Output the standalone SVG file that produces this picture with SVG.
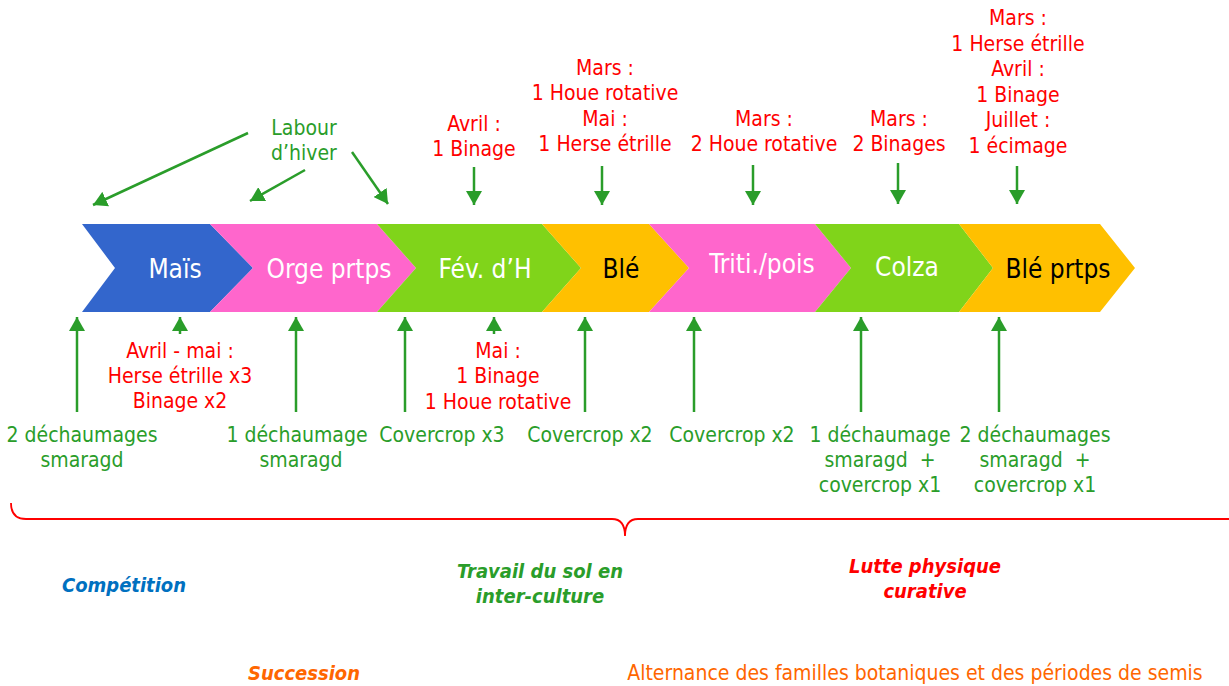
<svg xmlns="http://www.w3.org/2000/svg" width="1229" height="686" viewBox="0 0 1229 686">
<defs>
<style>
text{font-family:"DejaVu Sans Condensed","DejaVu Sans",sans-serif;font-size:21px;text-anchor:middle}
.lbl{font-size:26px;fill:#fff}
.blk{fill:#000}
.red{fill:#FF0000}
.grn{fill:#2A9D2A}
.bi{font-weight:bold;font-style:italic;font-size:20px}
.arr{stroke:#2A9D2A;stroke-width:2.5;fill:none;marker-end:url(#ah)}
</style>
<marker id="ah" viewBox="0 0 14 16" refX="14" refY="8" markerWidth="14" markerHeight="16" markerUnits="userSpaceOnUse" orient="auto">
<path d="M0,0 L14,8 L0,16 z" fill="#2A9D2A"/>
</marker>
</defs>
<rect width="1229" height="686" fill="#fff"/>

<g id="mais"><polygon points="82,224 210,224 253,268 210,312 82,312 115,268" fill="#3366CC"/><text class="lbl" x="175" y="278">Maïs</text></g>
<g id="orge"><polygon points="210,224 377,224 416,268 377,312 210,312 253,268" fill="#FF66CC"/><text class="lbl" x="329" y="278">Orge prtps</text></g>
<g id="fev"><polygon points="377,224 542,224 581,268 542,312 377,312 416,268" fill="#80D41A"/><text class="lbl" x="485" y="278">Fév. d’H</text></g>
<g id="ble"><polygon points="542,224 649,224 689,268 649,312 542,312 581,268" fill="#FFC000"/><text class="lbl blk" x="621" y="278">Blé</text></g>
<g id="triti"><polygon points="649,224 815,224 851,268 815,312 649,312 689,268" fill="#FF66CC"/><text class="lbl" x="762" y="273">Triti./pois</text></g>
<g id="colza"><polygon points="815,224 959,224 993,268 959,312 815,312 851,268" fill="#80D41A"/><text class="lbl" x="907" y="276">Colza</text></g>
<g id="bleprtps"><polygon points="959,224 1100,224 1135,268 1100,312 959,312 993,268" fill="#FFC000"/><text class="lbl blk" x="1058" y="278">Blé prtps</text></g>

<g id="connectors">
<line class="arr" x1="248" y1="133" x2="93" y2="205"/>
<line class="arr" x1="305" y1="170" x2="250" y2="201"/>
<line class="arr" x1="352" y1="152" x2="388" y2="204"/>
<line class="arr" x1="474" y1="167" x2="474" y2="205"/>
<line class="arr" x1="602" y1="166" x2="602" y2="205"/>
<line class="arr" x1="753" y1="165" x2="753" y2="205"/>
<line class="arr" x1="898" y1="163" x2="898" y2="204"/>
<line class="arr" x1="1017" y1="166" x2="1017" y2="204"/>
<line class="arr" x1="77" y1="412" x2="77" y2="317"/>
<line class="arr" x1="180" y1="334" x2="180" y2="317"/>
<line class="arr" x1="296" y1="412" x2="296" y2="317"/>
<line class="arr" x1="405" y1="412" x2="405" y2="317"/>
<line class="arr" x1="494" y1="334" x2="494" y2="317"/>
<line class="arr" x1="585" y1="412" x2="585" y2="317"/>
<line class="arr" x1="694" y1="412" x2="694" y2="317"/>
<line class="arr" x1="861" y1="412" x2="861" y2="317"/>
<line class="arr" x1="999" y1="412" x2="999" y2="317"/>
</g>

<g id="labour"><text class="grn" x="304" y="135">Labour</text><text class="grn" x="304" y="160">d’hiver</text></g>

<g id="top-notes">
<text class="red" x="474" y="131">Avril :</text>
<text class="red" x="474" y="156">1 Binage</text>
<text class="red" x="605" y="75">Mars :</text>
<text class="red" x="605" y="100">1 Houe rotative</text>
<text class="red" x="605" y="126">Mai :</text>
<text class="red" x="605" y="151">1 Herse étrille</text>
<text class="red" x="764" y="126">Mars :</text>
<text class="red" x="764" y="151">2 Houe rotative</text>
<text class="red" x="899" y="126">Mars :</text>
<text class="red" x="899" y="151">2 Binages</text>
<text class="red" x="1018" y="25">Mars :</text>
<text class="red" x="1018" y="51">1 Herse étrille</text>
<text class="red" x="1018" y="76">Avril :</text>
<text class="red" x="1018" y="102">1 Binage</text>
<text class="red" x="1018" y="127">Juillet :</text>
<text class="red" x="1018" y="153">1 écimage</text>
</g>

<g id="bottom-notes">
<text class="red" x="180" y="358">Avril - mai :</text>
<text class="red" x="180" y="383">Herse étrille x3</text>
<text class="red" x="180" y="408">Binage x2</text>
<text class="red" x="498" y="358">Mai :</text>
<text class="red" x="498" y="383">1 Binage</text>
<text class="red" x="498" y="409">1 Houe rotative</text>
<text class="grn" x="82" y="442">2 déchaumages</text>
<text class="grn" x="82" y="467">smaragd</text>
<text class="grn" x="297" y="442">1 déchaumage</text>
<text class="grn" x="301" y="467">smaragd</text>
<text class="grn" x="442" y="442">Covercrop x3</text>
<text class="grn" x="590" y="442">Covercrop x2</text>
<text class="grn" x="732" y="442">Covercrop x2</text>
<text class="grn" x="880" y="442">1 déchaumage</text>
<text class="grn" x="880" y="467" xml:space="preserve">smaragd  +</text>
<text class="grn" x="880" y="492">covercrop x1</text>
<text class="grn" x="1035" y="442">2 déchaumages</text>
<text class="grn" x="1035" y="467" xml:space="preserve">smaragd  +</text>
<text class="grn" x="1035" y="492">covercrop x1</text>
</g>

<g id="brace"><path d="M11,503 Q11,519 26,519 L612,519 Q625,519 625,536 Q625,519 638,519 L1229,519" fill="none" stroke="#FF0000" stroke-width="1.8"/></g>

<g id="categories">
<text class="bi" x="124" y="592" fill="#0070C0">Compétition</text>
<text class="bi grn" x="540" y="578">Travail du sol en</text>
<text class="bi grn" x="540" y="603">inter-culture</text>
<text class="bi red" x="925" y="573">Lutte physique</text>
<text class="bi red" x="925" y="598">curative</text>
<text class="bi" x="304" y="680" fill="#FF6600">Succession</text>
<text x="915" y="680" fill="#FF6600">Alternance des familles botaniques et des périodes de semis</text>
</g>
</svg>
